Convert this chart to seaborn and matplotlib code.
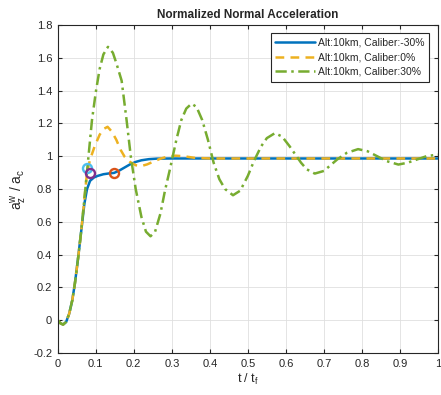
import numpy as np
import pandas as pd
import matplotlib
matplotlib.use("Agg")
import matplotlib.pyplot as plt
import seaborn as sns

# ---- data ----
t_blue = [0.0, 0.007, 0.014, 0.022, 0.03, 0.038, 0.045, 0.053, 0.062, 0.07, 0.077,
          0.085, 0.095, 0.105, 0.12, 0.135, 0.148, 0.16, 0.175, 0.19, 0.205, 0.22,
          0.24, 0.26, 0.3, 0.4, 0.5, 0.6, 0.7, 0.8, 0.9, 1.0]
v_blue = [0.0, -0.018, -0.026, -0.01, 0.04, 0.12, 0.224, 0.37, 0.55, 0.71, 0.80,
          0.85, 0.87, 0.88, 0.89, 0.895, 0.898, 0.91, 0.93, 0.95, 0.965, 0.975,
          0.982, 0.985, 0.986, 0.986, 0.986, 0.986, 0.986, 0.986, 0.986, 0.986]

t_orange = [0.0, 0.007, 0.014, 0.022, 0.03, 0.038, 0.045, 0.053, 0.062, 0.07, 0.077,
            0.085, 0.097, 0.11, 0.12, 0.131, 0.142, 0.154, 0.165, 0.176, 0.19, 0.205,
            0.22, 0.235, 0.25, 0.27, 0.29, 0.31, 0.33, 0.36, 0.4, 0.5, 0.6, 0.7,
            0.8, 0.9, 1.0]
v_orange = [0.0, -0.018, -0.026, -0.01, 0.04, 0.12, 0.224, 0.37, 0.55, 0.74, 0.90,
            0.98, 1.06, 1.13, 1.165, 1.179, 1.15, 1.10, 1.04, 0.996, 0.965, 0.945,
            0.94, 0.95, 0.965, 0.985, 0.998, 1.003, 1.0, 0.99, 0.986, 0.986, 0.986,
            0.986, 0.986, 0.986, 0.986]

t_green = [0.0, 0.007, 0.014, 0.022, 0.03, 0.038, 0.045, 0.053, 0.062, 0.07, 0.08,
           0.09, 0.1, 0.11, 0.12, 0.132, 0.145, 0.155, 0.168, 0.181, 0.192, 0.205,
           0.22, 0.232, 0.244, 0.256, 0.27, 0.282, 0.295, 0.312, 0.325, 0.338, 0.352,
           0.365, 0.38, 0.395, 0.41, 0.425, 0.44, 0.461, 0.48, 0.5, 0.516, 0.535,
           0.55, 0.571, 0.59, 0.61, 0.625, 0.64, 0.655, 0.676, 0.7, 0.72, 0.735,
           0.76, 0.79, 0.815, 0.84, 0.865, 0.896, 0.92, 0.945, 0.97, 1.0]
v_green = [0.0, -0.018, -0.026, -0.01, 0.04, 0.12, 0.224, 0.37, 0.55, 0.74, 0.98,
           1.22, 1.39, 1.53, 1.62, 1.666, 1.63, 1.56, 1.46, 1.22, 1.0, 0.80,
           0.63, 0.54, 0.512, 0.54, 0.65, 0.79, 0.92, 1.10, 1.22, 1.29, 1.32,
           1.30, 1.22, 1.10, 0.96, 0.86, 0.80, 0.762, 0.79, 0.88, 0.97, 1.06,
           1.11, 1.14, 1.12, 1.06, 1.01, 0.96, 0.92, 0.894, 0.91, 0.95, 0.98,
           1.02, 1.043, 1.03, 1.0, 0.97, 0.949, 0.96, 0.98, 1.0, 1.01]

labels = ["Alt:10km, Caliber:-30%", "Alt:10km, Caliber:0%", "Alt:10km, Caliber:30%"]

mark_t = [0.077, 0.084, 0.148]
mark_v = [0.925, 0.898, 0.898]
mark_colors = ["#4DBEEE", "#7E2F8E", "#D95319"]

# ---- plotting ----
sns.set_style("whitegrid")
plt.rcParams["font.family"] = ["Liberation Sans", "DejaVu Sans"]
plt.rcParams["mathtext.fontset"] = "custom"
plt.rcParams["mathtext.rm"] = "Liberation Sans"
plt.rcParams["mathtext.it"] = "Liberation Sans"

fig = plt.figure(figsize=(4.41, 3.95), dpi=100)
ax = fig.add_axes([0.131, 0.106, 0.862, 0.831])

df_b = pd.DataFrame({"t": t_blue, "v": v_blue})
df_o = pd.DataFrame({"t": t_orange, "v": v_orange})
df_g = pd.DataFrame({"t": t_green, "v": v_green})

sns.lineplot(data=df_b, x="t", y="v", ax=ax, color="#0072BD", lw=1.8,
             label=labels[0], estimator=None, sort=False)
sns.lineplot(data=df_o, x="t", y="v", ax=ax, color="#EDB120", lw=1.8,
             label=labels[1], estimator=None, sort=False, linestyle=(0, (3.5, 2.5)))
sns.lineplot(data=df_g, x="t", y="v", ax=ax, color="#77AC30", lw=1.8,
             label=labels[2], estimator=None, sort=False,
             linestyle=(0, (4.5, 1.8, 1, 1.8)))

for mt, mv, mc in zip(mark_t, mark_v, mark_colors):
    ax.plot([mt], [mv], marker="o", ms=6.5, mfc="none", mec=mc, mew=1.7, zorder=5)

ax.set_xlim(0, 1)
ax.set_ylim(-0.2, 1.8)
ax.set_xticks(np.arange(0, 1.01, 0.1))
ax.set_yticks(np.arange(-0.2, 1.81, 0.2))
ax.set_xticklabels(["0", "0.1", "0.2", "0.3", "0.4", "0.5", "0.6", "0.7", "0.8", "0.9", "1"])
ax.set_yticklabels(["-0.2", "0", "0.2", "0.4", "0.6", "0.8", "1", "1.2", "1.4", "1.6", "1.8"])
ax.tick_params(direction="in", length=3, labelsize=8, colors="#262626",
               top=True, right=True, bottom=True, left=True, pad=4)
ax.grid(True, color="#DFDFDF", lw=0.6)
for s in ax.spines.values():
    s.set_color("#262626")
    s.set_linewidth(0.8)

ax.set_xlabel("t / t$_\\mathregular{f}$", fontsize=9, color="#262626", labelpad=2)
ax.set_ylabel("a$_\\mathregular{z}^\\mathregular{w}$ / a$_\\mathregular{c}$",
              fontsize=10, color="#262626", labelpad=3)
ax.set_title("Normalized Normal Acceleration", fontsize=8.5, fontweight="bold", pad=5)

leg = ax.legend(loc="upper right", fontsize=7.5, frameon=True, fancybox=False,
                edgecolor="#262626", framealpha=1, borderpad=0.45,
                handlelength=3.8, labelspacing=0.45, handletextpad=0.3,
                borderaxespad=0.3, bbox_to_anchor=(0.985, 0.985))
leg.get_frame().set_linewidth(0.8)

fig.savefig("out.png", dpi=100)
